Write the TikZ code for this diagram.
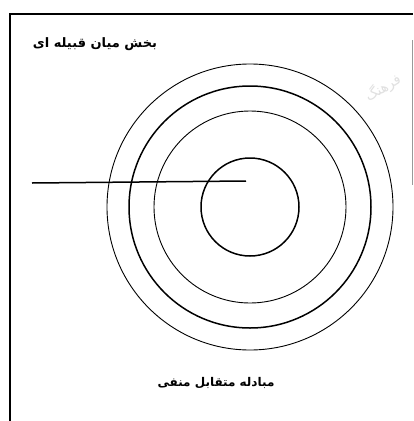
\documentclass[tikz,border=0pt]{standalone}
\usepackage{fontspec}
\newfontfamily\arabicfont[Script=Arabic]{DejaVu Sans}
\TeXXeTstate=1
\begin{document}
\begin{tikzpicture}[x=1pt,y=-1pt,
  ring/.style={draw=black,line width=0.9pt},
  thickring/.style={draw=black,line width=1.5pt},
  label/.style={font=\arabicfont\bfseries\fontsize{13}{15}\selectfont,inner sep=0pt}]
\useasboundingbox[fill=white] (0,0) rectangle (413,421);
% frame
\coordinate (tl) at (10,14);
\coordinate (tr) at (413,14);
\coordinate (bl) at (10,421);
\draw[line width=1.2pt] (bl) -- (tl) -- (tr);
\draw[black!40,line width=0.8pt] (412,40) -- (412,185);
% rings
\coordinate (c) at (250,207);
\draw[thickring] (c) circle[radius=49];
\draw[ring] (c) circle[radius=96];
\draw[thickring] (c) circle[radius=121];
\draw[ring] (c) circle[radius=143];
% line
\coordinate (ls) at (32,183);
\coordinate (le) at (246,181);
\draw[line width=1.5pt] (ls) -- (le);
% labels
\node[label] (top) at (95,44) {\beginR بخش میان قبیله ای\endR};
\node[label,font=\arabicfont\bfseries\fontsize{12}{14}\selectfont] (bot) at (216,383) {\beginR مبادله متقابل منفی\endR};
% watermark
\node[black!12,font=\arabicfont\fontsize{14}{16}\selectfont,rotate=30] (wm) at (383,88) {\beginR فرهنگ\endR};
\end{tikzpicture}
\end{document}
